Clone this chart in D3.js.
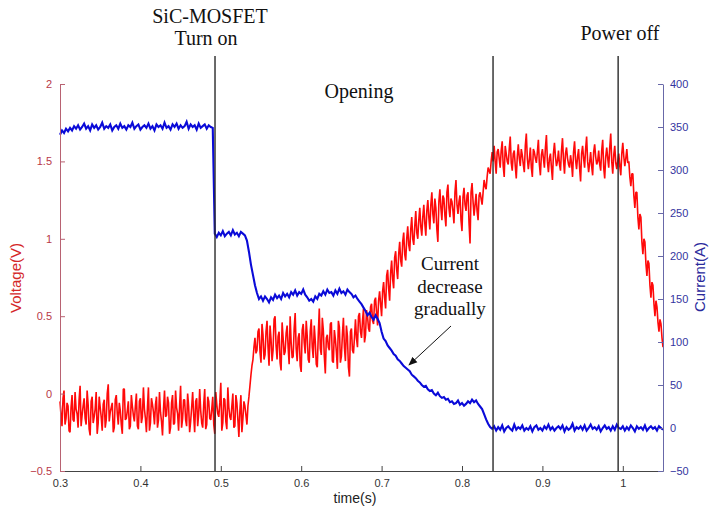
<!DOCTYPE html>
<html>
<head>
<meta charset="utf-8">
<script src="https://cdn.jsdelivr.net/npm/d3@7"></script>
<style>
  body { margin: 0; background: #fff; }
  svg { display: block; }
  .note { font-family: "Liberation Serif", "Times New Roman", serif; fill: #111; }
  .axisText { font-family: "Liberation Sans", Arial, sans-serif; }
</style>
</head>
<body>
<div id="plot"></div>
<script>
// oscilloscope record: uniform sampling from 0.3 s every 2.5 ms
let sampleStart = 0.3
let sampleStep = 0.0025

let xTicks = [0.3, 0.4, 0.5, 0.6, 0.7, 0.8, 0.9, 1]
let voltTicks = [-0.5, 0, 0.5, 1, 1.5, 2]
let currTicks = [-50, 0, 50, 100, 150, 200, 250, 300, 350, 400]

// event markers (s)
let markerTimes = [0.4928, 0.8386, 0.9942]

// voltage (V)
let voltage = [
  -0.05,-0.21,0.02,-0.16,-0.08,-0.25,-0.01,-0.18,-0.1,-0.22,0.05,-0.14,-0.03,-0.2,-0.07,-0.27,-0.02,-0.15,0.01,-0.19,
  -0.09,-0.24,-0.04,-0.17,0.06,-0.12,-0.06,-0.22,-0.01,-0.2,-0.11,-0.26,0.03,-0.16,-0.05,-0.21,-0.08,-0.18,0.0,-0.23,
  -0.03,-0.15,-0.1,-0.25,0.04,-0.19,-0.07,-0.2,-0.02,-0.17,-0.12,-0.27,0.02,-0.14,-0.06,-0.22,-0.01,-0.19,-0.09,-0.24,
  0.05,-0.16,-0.04,-0.21,-0.08,-0.18,0.01,-0.25,-0.03,-0.13,-0.11,-0.22,0.03,-0.2,-0.05,-0.17,-0.02,-0.26,-0.07,-0.15,
  0.07,-0.19,-0.04,-0.23,-0.09,-0.17,0.0,-0.21,-0.06,-0.28,-0.01,-0.16,-0.08,-0.2,
  -0.02,0.12,0.22,0.36,0.28,
  0.42,0.2,0.38,0.25,0.47,0.18,0.35,0.28,0.5,0.22,0.4,0.15,0.36,0.27,0.44,0.19,0.33,0.24,0.52,0.21,
  0.39,0.14,0.45,0.26,0.37,0.2,0.48,0.23,0.34,0.17,0.55,0.25,0.41,0.13,0.38,0.28,0.46,0.2,0.35,0.16,
  0.43,0.24,0.49,0.21,0.37,0.11,0.42,0.26,
  0.48,0.3,0.52,0.36,0.55,0.38,0.5,0.4,0.58,0.45,
  0.62,0.44,0.66,0.5,0.72,0.55,0.8,0.6,0.86,0.68,0.92,0.74,0.98,0.82,1.04,0.86,1.08,0.92,1.14,0.96,1.18,1.0,1.2,1.02,
  1.22,1.02,1.25,1.06,1.3,1.1,1.2,0.98,1.32,1.12,1.26,1.08,1.35,1.14,1.24,1.1,1.38,1.16,1.28,1.05,1.33,1.18,1.3,0.97,1.36,1.15,1.29,1.12,
  1.3,1.22,1.38,1.32,1.46,1.42,1.56,
  1.6,1.42,1.58,1.46,1.63,1.4,1.55,1.48,1.66,1.44,1.57,1.39,1.61,1.47,1.54,1.43,1.68,1.45,1.59,1.4,
  1.56,1.49,1.64,1.41,1.58,1.46,1.67,1.43,1.55,1.38,1.62,1.47,1.57,1.44,1.65,1.42,1.59,1.48,1.54,1.4,
  1.63,1.45,1.58,1.37,1.6,1.46,1.66,1.43,1.56,1.41,1.61,1.48,1.57,1.44,1.64,1.39,1.59,1.46,1.68,1.42,
  1.6,1.45,1.55,1.41,1.62,1.47,1.58,
  1.5,1.34,1.42,1.2,1.3,1.06,1.14,0.9,0.98,0.76,0.84,0.62,0.7,0.5,0.56,0.4,0.45,0.3
]

// voltage samples taken halfway between the ones above
let voltageMid = [
  -0.14,-0.03,-0.2,-0.06,-0.24,-0.09,-0.17,0.01,-0.13,-0.04,-0.21,-0.08,-0.16,0.02,-0.23,-0.05,-0.19,-0.1,-0.26,-0.02,
  -0.15,-0.07,-0.22,0.0,-0.18,-0.09,-0.25,-0.04,-0.13,-0.06,-0.2,0.03,-0.17,-0.11,-0.23,-0.01,-0.14,-0.08,-0.21,-0.05,
  -0.19,0.04,-0.16,-0.09,-0.24,-0.03,-0.12,-0.07,-0.22,0.01,-0.18,-0.1,-0.15,-0.02,-0.26,-0.06,-0.2,0.02,-0.13,-0.08,
  -0.22,-0.04,-0.17,0.0,-0.25,-0.09,-0.14,-0.05,-0.21,0.03,-0.19,-0.07,-0.23,-0.02,-0.16,-0.1,-0.2,0.01,-0.13,-0.06,
  -0.24,-0.03,-0.18,0.04,-0.15,-0.08,-0.22,-0.01,-0.17,-0.11,-0.25,-0.05,-0.14,-0.08,
  0.05,0.18,0.3,0.26,0.4,
  0.27,0.45,0.22,0.4,0.3,0.44,0.21,0.48,0.31,0.37,0.2,0.46,0.25,0.39,0.3,0.5,0.23,0.42,0.29,0.36,
  0.18,0.41,0.33,0.47,0.22,0.4,0.3,0.44,0.19,0.38,0.29,0.49,0.24,0.36,0.3,0.45,0.21,0.41,0.27,0.47,
  0.2,0.38,0.3,0.44,0.17,0.4,0.28,0.36,
  0.36,0.5,0.4,0.47,0.33,0.54,0.42,0.56,0.47,0.6,
  0.52,0.6,0.58,0.66,0.62,0.76,0.68,0.78,0.74,0.88,0.8,0.9,0.86,0.98,0.9,1.0,0.96,1.06,1.0,1.08,1.04,1.12,1.08,1.14,
  1.1,1.18,1.14,1.22,1.16,1.26,1.06,1.24,1.2,1.28,1.15,1.3,1.2,1.26,1.18,1.3,1.22,1.24,1.12,1.27,1.22,1.28,1.1,1.3,1.24,1.22,1.18,1.28,
  1.26,1.3,1.34,1.4,1.44,1.5,1.5,
  1.5,1.56,1.52,1.57,1.47,1.6,1.5,1.58,1.49,1.55,1.47,1.53,1.52,1.58,1.48,1.6,1.52,1.51,1.46,1.58,
  1.52,1.56,1.48,1.54,1.52,1.59,1.5,1.52,1.46,1.55,1.53,1.5,1.48,1.57,1.51,1.55,1.52,1.46,1.49,1.56,
  1.51,1.53,1.46,1.55,1.52,1.58,1.5,1.49,1.47,1.56,1.53,1.5,1.48,1.57,1.46,1.53,1.52,1.59,1.5,1.54,
  1.49,1.5,1.47,1.55,1.53,1.52,1.49,
  1.4,1.42,1.28,1.3,1.14,1.16,0.98,1.0,0.84,0.86,0.7,0.72,0.58,0.6,0.46,0.48,0.36
]

// current (A)
let current = [
  341,346,343,348,345,349,346,351,348,
  352,347,350,354,348,351,346,353,349,352,347,350,355,348,351,349,353,346,350,352,
  348,354,349,351,347,352,350,355,348,351,353,347,350,352,349,354,348,351,346,353,
  350,352,348,355,349,351,347,353,350,354,348,352,349,351,356,348,353,350,352,347,
  354,349,351,353,348,352,350,349,
  226,222,227,224,229,223,226,228,224,230,225,227,223,228,226,224,
  218,205,190,178,166,157,150,153,
  148,153,150,146,152,149,155,151,154,150,157,153,156,152,158,155,160,154,158,156,
  161,155,152,148,150,147,153,150,156,154,159,155,161,157,158,154,160,156,162,157,
  159,155,161,158,156,152,154,150,
  147,144,140,136,131,134,129,126,131,127,122,
  112,104,101,96,93,90,86,84,80,78,75,72,70,68,66,62,60,
  58,55,53,50,48,49,45,43,44,40,38,41,37,35,36,33,
  34,30,31,28,29,32,27,29,26,28,31,29,33,30,32,28,25,
  22,16,10,5,1,-1,
  2,-3,1,-2,3,-4,0,2,-1,-3,4,-2,1,-1,3,-3,0,-2,2,-4,
  1,3,-2,0,-3,2,-1,4,-2,1,-3,0,2,-1,3,-4,1,-2,0,5,
  -3,1,-1,2,-2,3,-3,0,4,-1,1,-2,2,-4,0,3,-1,1,-3,2,
  -2,4,0,-1,2,-3,1,-2,3,0,-4,2,-1,1,-2,3,-3,0,2,-1,
  1,-3,2,0,-2
]

let svgWidth = 709
let svgHeight = 508

let margin = { top: 84, right: 46, bottom: 37, left: 60 }
let width = svgWidth - margin.left - margin.right
let height = svgHeight - margin.top - margin.bottom

let svg = d3.select("#plot")
  .append("svg")
  .attr("width", svgWidth)
  .attr("height", svgHeight)

let chart = svg.append("g")
  .attr("transform", `translate(${margin.left}, ${margin.top})`)

let x = d3.scaleLinear().domain([0.3, 1.05]).range([0, width])
let yVolt = d3.scaleLinear().domain([-0.5, 2]).range([height, 0])
let yCurr = d3.scaleLinear().domain([-50, 400]).range([height, 0])

let tOf = i => sampleStart + i * sampleStep

// interleave both voltage sample sets in time order
let voltSeries = []
voltage.forEach(function(v, i) {
  voltSeries.push({ t: tOf(i), v: v })
  if (i < voltageMid.length) voltSeries.push({ t: tOf(i) + sampleStep / 2, v: voltageMid[i] })
})

// traces
chart.append("path")
  .datum(voltSeries)
  .attr("fill", "none")
  .attr("stroke", "#ff0a0a")
  .attr("stroke-width", 1.6)
  .attr("stroke-linejoin", "bevel")
  .attr("d", d3.line().x(d => x(d.t)).y(d => yVolt(d.v)))

chart.append("path")
  .datum(current)
  .attr("fill", "none")
  .attr("stroke", "#0a0ad8")
  .attr("stroke-width", 2.1)
  .attr("d", d3.line().x((d, i) => x(tOf(i))).y(d => yCurr(d)))

// event lines, running up above the plot
chart.selectAll(".marker")
  .data(markerTimes)
  .enter()
  .append("line")
  .attr("class", "marker")
  .attr("x1", d => x(d))
  .attr("x2", d => x(d))
  .attr("y1", -28)
  .attr("y2", height)
  .attr("stroke", "#2a2a2a")
  .attr("stroke-width", 1.4)

// axes, matlab style ticks pointing inward
let xAxis = d3.axisBottom(x).tickValues(xTicks).tickFormat(d3.format("~g"))
  .tickSizeInner(-5).tickSizeOuter(0).tickPadding(8)
let gx = chart.append("g")
  .attr("transform", `translate(0, ${height})`)
  .call(xAxis)
gx.select(".domain").attr("stroke", "#444")
gx.selectAll(".tick line").attr("stroke", "#444")
gx.selectAll("text").attr("fill", "#333").style("font-size", "11px")
  .style("font-family", "Liberation Sans, Arial, sans-serif")

let yAxisL = d3.axisLeft(yVolt).tickValues(voltTicks).tickFormat(d3.format("~g"))
  .tickSizeInner(-5).tickSizeOuter(0).tickPadding(8)
let gl = chart.append("g").call(yAxisL)
gl.select(".domain").attr("stroke", "#b86272")
gl.selectAll(".tick line").attr("stroke", "#b86272")
gl.selectAll("text").attr("fill", "#b83848").style("font-size", "11px")
  .style("font-family", "Liberation Sans, Arial, sans-serif")

let yAxisR = d3.axisRight(yCurr).tickValues(currTicks)
  .tickSizeInner(-5).tickSizeOuter(0).tickPadding(7)
let gr = chart.append("g")
  .attr("transform", `translate(${width}, 0)`)
  .call(yAxisR)
gr.select(".domain").attr("stroke", "#6868a8")
gr.selectAll(".tick line").attr("stroke", "#6868a8")
gr.selectAll("text").attr("fill", "#3434a0").style("font-size", "11px")
  .style("font-family", "Liberation Sans, Arial, sans-serif")

// axis titles
svg.append("text")
  .attr("class", "axisText")
  .attr("transform", "translate(21, 278) rotate(-90)")
  .attr("text-anchor", "middle")
  .style("font-size", "15px")
  .attr("fill", "#d42828")
  .text("Voltage(V)")

svg.append("text")
  .attr("class", "axisText")
  .attr("transform", "translate(705, 277) rotate(-90)")
  .attr("text-anchor", "middle")
  .style("font-size", "15px")
  .attr("fill", "#2a2a9c")
  .text("Current(A)")

svg.append("text")
  .attr("class", "axisText")
  .attr("x", 355)
  .attr("y", 503)
  .attr("text-anchor", "middle")
  .style("font-size", "14px")
  .attr("fill", "#222")
  .text("time(s)")

// annotations
let notes = [
  { text: "SiC-MOSFET", x: 210, y: 23 },
  { text: "Turn on", x: 206, y: 45 },
  { text: "Opening", x: 359, y: 98 },
  { text: "Power off", x: 620, y: 40 },
  { text: "Current", x: 450, y: 270 },
  { text: "decrease", x: 450, y: 293 },
  { text: "gradually", x: 450, y: 315 }
]
svg.selectAll(".note")
  .data(notes)
  .enter()
  .append("text")
  .attr("class", "note")
  .attr("x", d => d.x)
  .attr("y", d => d.y)
  .attr("text-anchor", "middle")
  .style("font-size", (d, i) => i < 4 ? "20px" : "19px")
  .text(d => d.text)

svg.append("defs").append("marker")
  .attr("id", "arrowHead")
  .attr("viewBox", "0 0 10 10")
  .attr("refX", 9)
  .attr("refY", 5)
  .attr("markerWidth", 9)
  .attr("markerHeight", 9)
  .attr("orient", "auto")
  .append("path")
  .attr("d", "M0,1 L10,5 L0,9 Z")
  .attr("fill", "#111")

svg.append("line")
  .attr("x1", 451).attr("y1", 326)
  .attr("x2", 409).attr("y2", 365)
  .attr("stroke", "#111")
  .attr("stroke-width", 1)
  .attr("marker-end", "url(#arrowHead)")
</script>
</body>
</html>
